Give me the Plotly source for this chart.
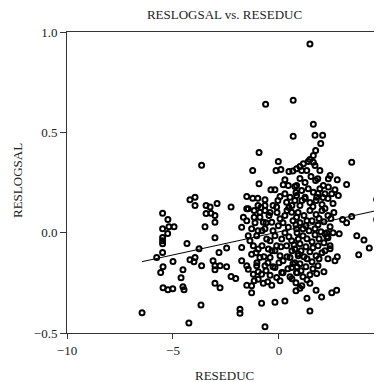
import plotly.graph_objects as go

# Values (RESEDUC, RESLOGSAL)
reseduc = [
    # left cluster
    -4.20, -3.96, -3.96, -3.44, -3.25, -3.44, -3.21, -3.02, -2.92, -5.49,
    -5.24, -5.49, -5.19, -4.95, -5.25, -5.49, -5.49, -5.49, -5.49, -4.34,
    -3.49, -3.02, -3.77, -3.02, -2.83, -5.77, -5.00, -4.20, -3.96, -4.01,
    -3.65, -3.11, -3.02, -3.02, -5.47, -5.58, -4.53, -4.62, -5.47, -5.24,
    -5.01, -4.53, -4.48, -3.02, -2.78, -3.68, -6.46, -4.25, -3.65, -2.26,
    # middle-left / lower
    -2.47, -2.78, -2.47, -2.26, -2.04, -1.76, -1.76, -1.52, -1.45, -1.52,
    -1.29, -1.29, -1.17, -0.98, -0.74, -0.53, -0.34, -0.82, -0.19, 0.28,
    -1.84, -1.84, -0.66,
    # right lower
    1.46, 1.32, 2.01, 1.75, 2.49, 2.72, 2.12, 1.78, 1.46, 0.99,
    1.46, 2.84, 3.67, 4.01, 4.26, 3.76, 2.75, 2.64, 4.61, 4.68,
    4.61, 3.43, 3.19, 3.00,
    # upper
    1.46, -0.63, 0.67, 1.62, 0.67, 1.70, 2.06, 1.97, -0.94, 3.43,
    -1.24, -0.94, 2.75, 3.19, 1.73, 1.62, 1.46, 1.38, 1.62, 1.70,
    1.15, 0.99, 0.83, 1.31, 1.07, 1.93, 2.41, 2.33, 1.83, 1.73,
    2.09, 0.83, 1.93, 2.33, 2.64, 1.38, 1.07, 1.62, 2.17, 2.49,
    2.80, 1.23, 1.78, -0.03, -0.14, 0.09, 0.47, 0.65, 0.28, -0.38,
    -0.19, 0.20, 0.44, 0.75, -1.52, -1.24, -1.00, -0.66, 0.05, 0.28,
    0.52, 0.83,
    # dense centre
    -0.66, -0.66, -0.11, 0.36, 0.75, -1.68, -1.76, -1.45, -1.17, -0.90,
    -1.17, -0.90, -1.52, -1.29, -0.74, -0.34, 0.05, 0.28, 0.60, 0.83,
    -0.03, 0.44, 0.83, -1.45, -1.05, -0.58, -0.19, 0.13, 0.60, 0.91,
    -1.21, -0.98, -0.50, -0.11, 0.36, 0.75, -1.29, -0.90, -0.42, 0.05,
    0.52, 0.91, -1.05, -0.66, -0.19, 0.13, 0.60, 0.83, -0.82, -0.42,
    -0.11, -0.98, -1.21, -1.52,
    # dense right of centre
    0.99, 1.23, 1.46, 1.75, 2.03, 2.31, 2.55, 0.90, 1.18, 1.46,
    1.75, 2.03, 2.31, 2.59, 0.99, 1.27, 1.56, 1.84, 2.12, 2.41,
    0.85, 1.13, 1.42, 1.70, 1.98, 2.26, 2.55, 0.99, 1.27, 1.56,
    1.84, 2.12, 2.41, 0.90, 1.18, 1.46, 1.75, 2.03, 2.31, 0.99,
    1.27, 1.56, 1.84, 0.85, 1.13, 0.80, 1.08, 2.26, 2.31, 2.41,
    2.08,
    # extra centre fill
    -1.37, -0.80, -0.42, 0.28, 0.61, 0.19, -0.52, -1.13, -0.42, 0.38,
    -0.05, 0.66, -0.80, -0.19, 0.42, 0.75, 0.05, 0.61, -0.66, -0.99,
    -0.28, 0.61,
    -0.85, -0.47, -0.09, 0.19, 0.47, 0.80, -0.99, -0.61, -0.28, 0.09,
    0.47, 0.71, -1.08, -0.71, -0.33, 0.00, 0.38, 0.66, -1.04, -0.61,
    -0.28, 0.19, 0.52, 0.85,
    # extra right-of-centre fill
    1.08, 1.60, 2.17, 1.89, 1.32, 2.45, 1.13, 1.70, 2.17, 1.32,
    1.89, 1.04, 1.60, 2.17, 1.32, 1.89, 1.04, 1.60, 1.32, 0.80,
    1.51, 1.23, 1.84, 0.99, 0.80,
]

reslogsal = [
    # left cluster
    0.164, 0.177, 0.135, 0.135, 0.128, 0.095, 0.097, 0.085, 0.145, 0.097,
    0.065, 0.020, 0.030, 0.030, -0.004, -0.024, -0.040, -0.055, -0.099, -0.054,
    0.030, 0.052, -0.080, -0.025, -0.099, -0.124, -0.144, -0.135, -0.124, -0.145,
    -0.165, -0.140, -0.165, -0.185, -0.170, -0.199, -0.185, -0.225, -0.274, -0.285,
    -0.280, -0.270, -0.285, -0.252, -0.274, -0.360, -0.399, -0.450, 0.336, 0.128,
    # middle-left / lower
    -0.077, -0.165, -0.170, -0.219, -0.229, -0.074, -0.140, -0.165, -0.182, -0.262,
    -0.265, -0.299, -0.240, -0.232, -0.252, -0.245, -0.262, -0.352, -0.347, -0.340,
    -0.382, -0.402, -0.469,
    # right lower
    -0.390, -0.327, -0.320, -0.287, -0.299, -0.287, -0.195, -0.204, -0.210, -0.277,
    -0.252, -0.006, -0.015, -0.036, -0.077, -0.110, -0.120, -0.140, 0.165, 0.135,
    0.065, 0.080, 0.049, 0.065,
    # upper
    0.940, 0.640, 0.660, 0.540, 0.480, 0.485, 0.485, 0.444, 0.400, 0.351,
    0.310, 0.244, 0.264, 0.240, 0.410, 0.385, 0.364, 0.355, 0.351, 0.335,
    0.344, 0.330, 0.319, 0.310, 0.310, 0.310, 0.285, 0.269, 0.269, 0.260,
    0.235, 0.235, 0.219, 0.227, 0.214, 0.219, 0.210, 0.202, 0.194, 0.194,
    0.185, 0.177, 0.177, 0.355, 0.310, 0.315, 0.305, 0.307, 0.264, 0.214,
    0.214, 0.239, 0.235, 0.230, 0.180, 0.172, 0.172, 0.164, 0.180, 0.194,
    0.177, 0.185,
    # dense centre
    0.135, 0.110, 0.128, 0.152, 0.160, 0.077, 0.027, 0.119, 0.110, 0.102,
    0.077, 0.077, 0.060, 0.019, 0.052, 0.052, 0.069, 0.085, 0.102, 0.077,
    0.035, 0.027, 0.019, -0.015, -0.015, -0.032, -0.015, -0.032, -0.040, -0.032,
    -0.065, -0.081, -0.081, -0.065, -0.065, -0.081, -0.107, -0.124, -0.124, -0.115,
    -0.124, -0.115, -0.165, -0.165, -0.174, -0.199, -0.174, -0.199, -0.207, -0.212,
    -0.224, -0.195, -0.207, 0.119,
    # dense right of centre
    0.135, 0.170, 0.150, 0.160, 0.140, 0.170, 0.145, 0.100, 0.085, 0.110,
    0.090, 0.110, 0.085, 0.100, 0.050, 0.035, 0.060, 0.040, 0.055, 0.030,
    0.000, -0.015, 0.010, -0.010, 0.005, -0.020, 0.000, -0.055, -0.070, -0.045,
    -0.065, -0.050, -0.080, -0.105, -0.120, -0.095, -0.115, -0.100, -0.130, -0.155,
    -0.170, -0.145, -0.165, -0.200, -0.220, -0.250, -0.265, 0.000, -0.025, -0.065,
    0.175,
    # extra centre fill
    -0.040, 0.010, -0.040, 0.000, -0.090, -0.140, -0.150, 0.050, 0.100, 0.110,
    0.160, 0.060, -0.065, -0.090, -0.180, -0.150, -0.240, -0.230, 0.020, 0.135,
    0.135, 0.135,
    0.125, 0.085, 0.100, 0.050, 0.125, 0.040, 0.010, 0.050, 0.010, -0.070,
    -0.020, -0.060, -0.100, -0.120, -0.090, -0.150, -0.120, -0.155, -0.150, -0.190,
    -0.170, -0.200, -0.220, -0.170,
    # extra right-of-centre fill
    0.160, 0.130, 0.120, 0.070, 0.060, 0.070, 0.020, 0.020, -0.005, -0.030,
    -0.030, -0.090, -0.075, -0.090, -0.130, -0.130, -0.190, -0.180, -0.235, -0.290,
    0.280, 0.250, 0.195, 0.270, 0.200,
]

# fitted regression line
fit_intercept = 0.004
fit_slope = 0.023

x_ticks = [-10, -5, 0, 5]
y_ticks = [-0.5, 0.0, 0.5, 1.0]

FONT = "Liberation Serif"
TXT = "#222222"
AX = "#333333"

xmin, xmax = min(reseduc), max(reseduc)
line_x = [xmin, xmax]
line_y = [fit_intercept + fit_slope * v for v in line_x]

fig = go.Figure()
fig.add_trace(go.Scatter(
    x=reseduc, y=reslogsal, mode="markers",
    marker=dict(symbol="circle-open", size=5, color="black",
                line=dict(width=2, color="black")),
    showlegend=False,
))
fig.add_trace(go.Scatter(
    x=line_x, y=line_y, mode="lines",
    line=dict(color="black", width=1),
    showlegend=False,
))

# page body adds an 8px margin; figure is sized so the plot area lands
# at x 67..382, y 32..333 of the 382px window
W = H = 374
fig.update_layout(
    template="none",
    width=W, height=H,
    margin=dict(l=59, r=0, t=24, b=49),
    paper_bgcolor="white", plot_bgcolor="white",
    font=dict(family=FONT, size=13, color=TXT),
    title=dict(text="RESLOGSAL vs. RESEDUC", x=0.5, xref="paper",
               xanchor="center", y=1 - 6 / H, yref="container",
               yanchor="middle", font=dict(family=FONT, size=13, color=TXT)),
    xaxis=dict(range=[-10, 4.86], tickvals=x_ticks, showgrid=False,
               zeroline=False, showline=True, linecolor=AX, linewidth=1,
               mirror=True, ticks="outside", ticklen=5, tickcolor=AX,
               tickfont=dict(family=FONT, size=13, color=TXT)),
    yaxis=dict(range=[-0.5, 1.0], tickvals=y_ticks, tickformat=".1f",
               showgrid=False, zeroline=False, showline=True,
               linecolor=AX, linewidth=1, ticks="outside", ticklen=6,
               tickcolor=AX, tickfont=dict(family=FONT, size=13, color=TXT)),
    annotations=[
        dict(text="RESEDUC", xref="paper", yref="paper", x=0.5,
             y=-42 / 301, xanchor="center", yanchor="middle",
             showarrow=False, font=dict(family=FONT, size=13, color=TXT)),
        dict(text="RESLOGSAL", xref="paper", yref="paper", x=-49 / 315,
             y=0.505, xanchor="center", yanchor="middle", textangle=-90,
             showarrow=False, font=dict(family=FONT, size=13, color=TXT)),
    ],
)

fig.write_html("out.html")
